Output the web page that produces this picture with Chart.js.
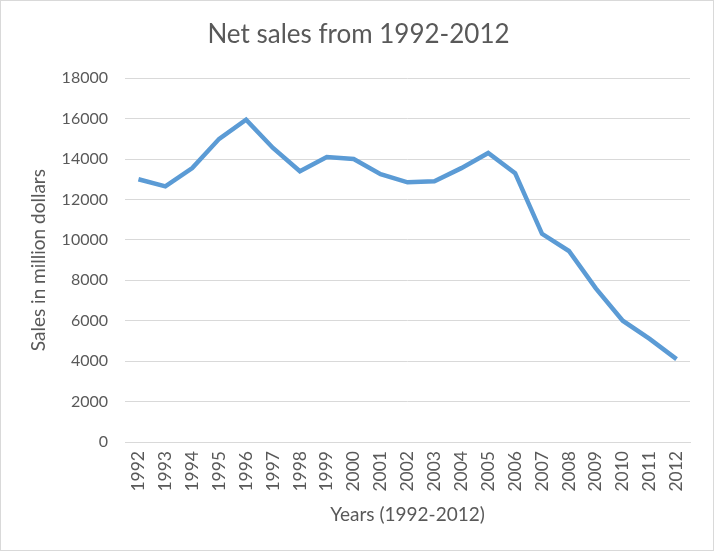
<!DOCTYPE html>
<html>
<head>
<meta charset="utf-8">
<script src="https://cdn.jsdelivr.net/npm/chart.js@4"></script>
<style>
html,body{margin:0;padding:0;background:#fff;}
#wrap{position:absolute;left:0;top:0;width:712px;height:549px;border:1px solid #d9d9d9;}
</style>
</head>
<body>
<div id="wrap"><canvas id="c" width="712" height="549"></canvas></div>
<script>
const years = ["1992","1993","1994","1995","1996","1997","1998","1999","2000","2001","2002","2003","2004","2005","2006","2007","2008","2009","2010","2011","2012"];
const sales = [13000,12650,13550,15000,15950,14550,13400,14100,14000,13250,12850,12900,13550,14300,13300,10300,9450,7600,6000,5100,4100];
const yMin = 0, yMax = 18000, yStep = 2000;
const FONT = 'Lato, "Open Sans", sans-serif';

new Chart(document.getElementById('c'), {
  type: 'line',
  data: {
    labels: years,
    datasets: [{
      data: sales,
      borderColor: '#5b9bd5',
      borderWidth: 4.5,
      pointRadius: 0,
      tension: 0,
      fill: false
    }]
  },
  options: {
    responsive: false,
    animation: false,
    layout: {padding: {left: 26, right: 23, top: 8, bottom: 24}},
    plugins: {
      legend: {display: false},
      tooltip: {enabled: false},
      title: {
        display: true,
        text: 'Net sales from 1992-2012',
        color: '#595959',
        font: {family: FONT, size: 26, weight: 'normal'},
        padding: {top: 10, bottom: 28}
      }
    },
    scales: {
      x: {
        offset: true,
        grid: {display: false, drawTicks: false},
        border: {display: true, color: '#d9d9d9'},
        afterFit: (s) => { s.height = 84; },
        ticks: {
          color: '#595959',
          font: {family: FONT, size: 17.5},
          maxRotation: 90, minRotation: 90, autoSkip: false, padding: 9
        },
        title: {
          display: true, text: 'Years (1992-2012)', color: '#595959',
          font: {family: FONT, size: 19}, padding: {top: 4, bottom: 0}
        }
      },
      y: {
        min: yMin, max: yMax,
        grid: {color: '#d9d9d9', lineWidth: 1, drawTicks: false},
        border: {display: false},
        afterFit: (s) => { s.width = 98; },
        ticks: {
          stepSize: yStep, color: '#595959', padding: 17,
          font: {family: FONT, size: 16},
          callback: (v) => String(v)
        },
        title: {
          display: true, text: 'Sales in million dollars', color: '#595959',
          font: {family: FONT, size: 19}, padding: {top: 0, bottom: 0}
        }
      }
    }
  }
});
</script>
</body>
</html>
